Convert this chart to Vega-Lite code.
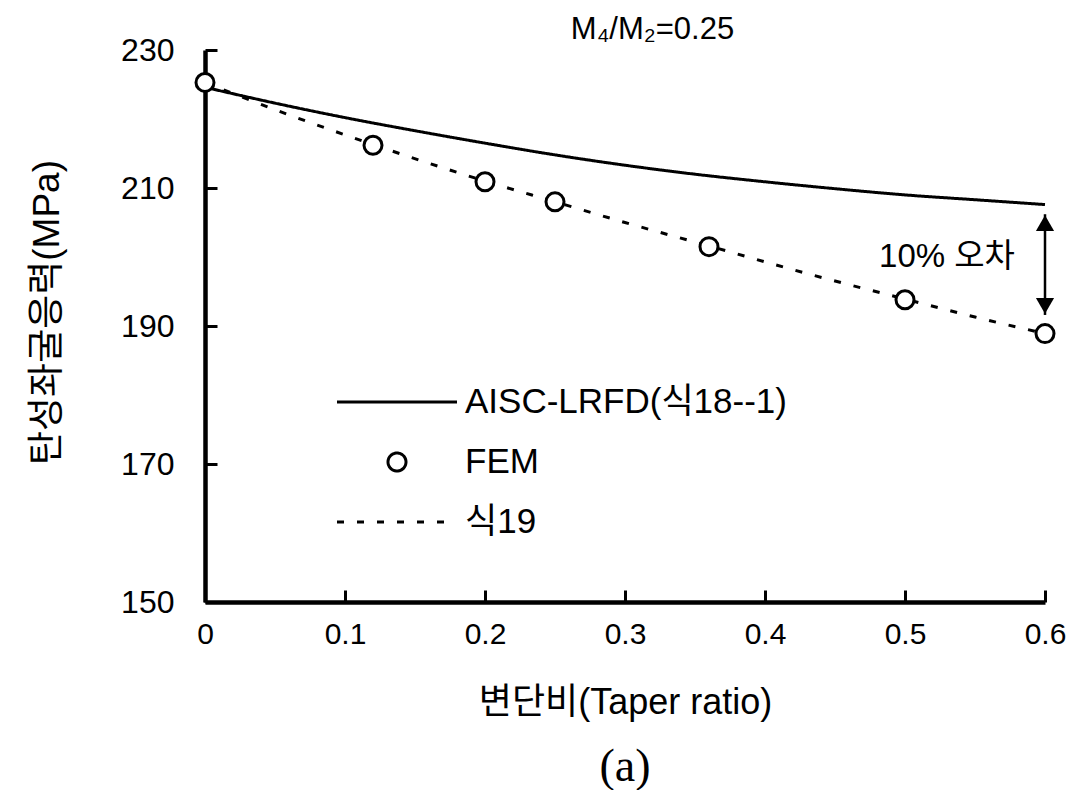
{
  "$schema": "https://vega.github.io/schema/vega-lite/v6.json",
  "width": 840,
  "height": 552,
  "autosize": {"type": "none"},
  "padding": {"left": 205, "top": 50, "right": 44, "bottom": 188},
  "background": "white",
  "config": {
    "view": {"stroke": null},
    "font": "Liberation Sans, Noto Sans CJK KR",
    "axis": {
      "grid": false,
      "domainColor": "black",
      "domainWidth": 4.5,
      "tickColor": "black",
      "tickWidth": 3,
      "tickSize": -12,
      "labelColor": "black",
      "labelFont": "Liberation Sans, Noto Sans CJK KR",
      "titleColor": "black",
      "titleFont": "Liberation Sans, Noto Sans CJK KR",
      "titleFontWeight": "normal"
    }
  },
  "title": {
    "text": "(a)",
    "orient": "bottom",
    "anchor": "middle",
    "font": "Liberation Serif",
    "fontSize": 46,
    "fontWeight": "normal",
    "color": "black",
    "offset": 25
  },
  "datasets": {
    "curves": [
      {"series": "AISC-LRFD(식18--1)", "ratio": 0.0, "stress": 224.6},
      {"series": "AISC-LRFD(식18--1)", "ratio": 0.05, "stress": 222.3},
      {"series": "AISC-LRFD(식18--1)", "ratio": 0.1, "stress": 220.2},
      {"series": "AISC-LRFD(식18--1)", "ratio": 0.15, "stress": 218.3},
      {"series": "AISC-LRFD(식18--1)", "ratio": 0.2, "stress": 216.5},
      {"series": "AISC-LRFD(식18--1)", "ratio": 0.25, "stress": 214.8},
      {"series": "AISC-LRFD(식18--1)", "ratio": 0.3, "stress": 213.3},
      {"series": "AISC-LRFD(식18--1)", "ratio": 0.35, "stress": 212.0},
      {"series": "AISC-LRFD(식18--1)", "ratio": 0.4, "stress": 210.9},
      {"series": "AISC-LRFD(식18--1)", "ratio": 0.45, "stress": 209.9},
      {"series": "AISC-LRFD(식18--1)", "ratio": 0.5, "stress": 209.0},
      {"series": "AISC-LRFD(식18--1)", "ratio": 0.55, "stress": 208.3},
      {"series": "AISC-LRFD(식18--1)", "ratio": 0.6, "stress": 207.6},
      {"series": "식19", "ratio": 0.0, "stress": 225.3},
      {"series": "식19", "ratio": 0.06, "stress": 220.6},
      {"series": "식19", "ratio": 0.12, "stress": 216.3},
      {"series": "식19", "ratio": 0.2, "stress": 211.0},
      {"series": "식19", "ratio": 0.25, "stress": 208.0},
      {"series": "식19", "ratio": 0.3, "stress": 205.0},
      {"series": "식19", "ratio": 0.36, "stress": 201.6},
      {"series": "식19", "ratio": 0.43, "stress": 197.6},
      {"series": "식19", "ratio": 0.5, "stress": 193.9},
      {"series": "식19", "ratio": 0.55, "stress": 191.3},
      {"series": "식19", "ratio": 0.6, "stress": 188.9}
    ],
    "fem": [
      {"series": "FEM", "ratio": 0.0, "stress": 225.3},
      {"series": "FEM", "ratio": 0.12, "stress": 216.2},
      {"series": "FEM", "ratio": 0.2, "stress": 210.9},
      {"series": "FEM", "ratio": 0.25, "stress": 208.0},
      {"series": "FEM", "ratio": 0.36, "stress": 201.5},
      {"series": "FEM", "ratio": 0.5, "stress": 193.8},
      {"series": "FEM", "ratio": 0.6, "stress": 188.9}
    ],
    "gap": [
      {"ratio": 0.6, "upper": 206.2, "lower": 191.6}
    ],
    "note": [
      {"ratio": 0.53, "stress": 200.0, "label": "10% 오차"}
    ]
  },
  "resolve": {"axis": {"x": "independent"}},
  "layer": [
    {
      "data": {"name": "curves"},
      "mark": {"type": "line", "color": "black", "strokeWidth": 3, "interpolate": "monotone"},
      "encoding": {
        "x": {
          "field": "ratio",
          "type": "quantitative",
          "scale": {"domain": [0, 0.6], "nice": false, "zero": false},
          "axis": {
            "orient": "bottom",
            "values": [0, 0.1, 0.2, 0.3, 0.4, 0.5, 0.6],
            "format": "~g",
            "labelFontSize": 30,
            "labelBaseline": "middle",
            "labelPadding": 44,
            "labelFlush": false,
            "title": "변단비(Taper ratio)",
            "titleFontSize": 36,
            "titleBaseline": "middle",
            "titleY": 100
          }
        },
        "y": {
          "field": "stress",
          "type": "quantitative",
          "scale": {"domain": [150, 230], "nice": false, "zero": false},
          "axis": {
            "values": [150, 170, 190, 210, 230],
            "labelFontSize": 32,
            "labelBaseline": "middle",
            "labelPadding": 43,
            "title": "탄성좌굴응력(MPa)",
            "titleFontSize": 37,
            "titleBaseline": "middle",
            "titleX": -158,
            "titleY": 262
          }
        },
        "strokeDash": {
          "field": "series",
          "type": "nominal",
          "scale": {
            "domain": ["AISC-LRFD(식18--1)", "FEM", "식19"],
            "range": [[1, 0], [1, 0], [7, 13]]
          },
          "legend": {
            "orient": "none",
            "legendX": 130.5,
            "legendY": 337,
            "title": null,
            "labelFontSize": 35,
            "labelColor": "black",
            "labelOffset": 6.5,
            "labelLimit": 0,
            "clipHeight": 30,
            "rowPadding": 25,
            "symbolStrokeWidth": 3,
            "encode": {
              "symbols": {
                "update": {
                  "fill": {"value": "white"},
                  "stroke": {"value": "black"},
                  "strokeWidth": {"value": 3},
                  "opacity": {"value": 1}
                }
              }
            }
          }
        }
      }
    },
    {
      "data": {"name": "fem"},
      "mark": {"type": "point", "filled": true, "fill": "white", "stroke": "black", "strokeWidth": 3, "opacity": 1},
      "encoding": {
        "x": {"field": "ratio", "type": "quantitative", "axis": null},
        "y": {"field": "stress", "type": "quantitative"},
        "shape": {
          "field": "series",
          "type": "nominal",
          "scale": {
            "domain": ["AISC-LRFD(식18--1)", "FEM", "식19"],
            "range": ["stroke", "circle", "stroke"]
          },
          "legend": {
            "orient": "none",
            "legendX": 130.5,
            "legendY": 337,
            "title": null,
            "labelFontSize": 35,
            "labelColor": "black",
            "labelOffset": 6.5,
            "labelLimit": 0,
            "clipHeight": 30,
            "rowPadding": 25,
            "symbolStrokeWidth": 3
          }
        },
        "size": {
          "field": "series",
          "type": "nominal",
          "scale": {
            "type": "ordinal",
            "domain": ["AISC-LRFD(식18--1)", "FEM", "식19"],
            "range": [14400, 324, 14400]
          },
          "legend": {
            "orient": "none",
            "legendX": 130.5,
            "legendY": 337,
            "title": null,
            "labelFontSize": 35,
            "labelColor": "black",
            "labelOffset": 6.5,
            "labelLimit": 0,
            "clipHeight": 30,
            "rowPadding": 25,
            "symbolStrokeWidth": 3
          }
        }
      }
    },
    {
      "data": {"name": "gap"},
      "mark": {"type": "rule", "color": "black", "strokeWidth": 2.5},
      "encoding": {
        "x": {"field": "ratio", "type": "quantitative", "axis": null},
        "y": {"field": "upper", "type": "quantitative"},
        "y2": {"field": "lower"}
      }
    },
    {
      "data": {"name": "gap"},
      "mark": {"type": "point", "shape": "triangle-up", "filled": true, "color": "black", "size": 330, "opacity": 1, "yOffset": 9},
      "encoding": {
        "x": {"field": "ratio", "type": "quantitative", "axis": null},
        "y": {"field": "upper", "type": "quantitative"}
      }
    },
    {
      "data": {"name": "gap"},
      "mark": {"type": "point", "shape": "triangle-down", "filled": true, "color": "black", "size": 330, "opacity": 1, "yOffset": -9},
      "encoding": {
        "x": {"field": "ratio", "type": "quantitative", "axis": null},
        "y": {"field": "lower", "type": "quantitative"}
      }
    },
    {
      "data": {"name": "note"},
      "mark": {"type": "text", "fontSize": 33, "color": "black", "font": "Liberation Sans, Noto Sans CJK KR"},
      "encoding": {
        "x": {
          "field": "ratio",
          "type": "quantitative",
          "axis": {
            "orient": "top",
            "domain": false,
            "ticks": false,
            "labels": false,
            "title": "M₄/M₂=0.25",
            "titleFontSize": 31,
            "titleX": 447,
            "titlePadding": 5
          }
        },
        "y": {"field": "stress", "type": "quantitative"},
        "text": {"field": "label"}
      }
    }
  ]
}
